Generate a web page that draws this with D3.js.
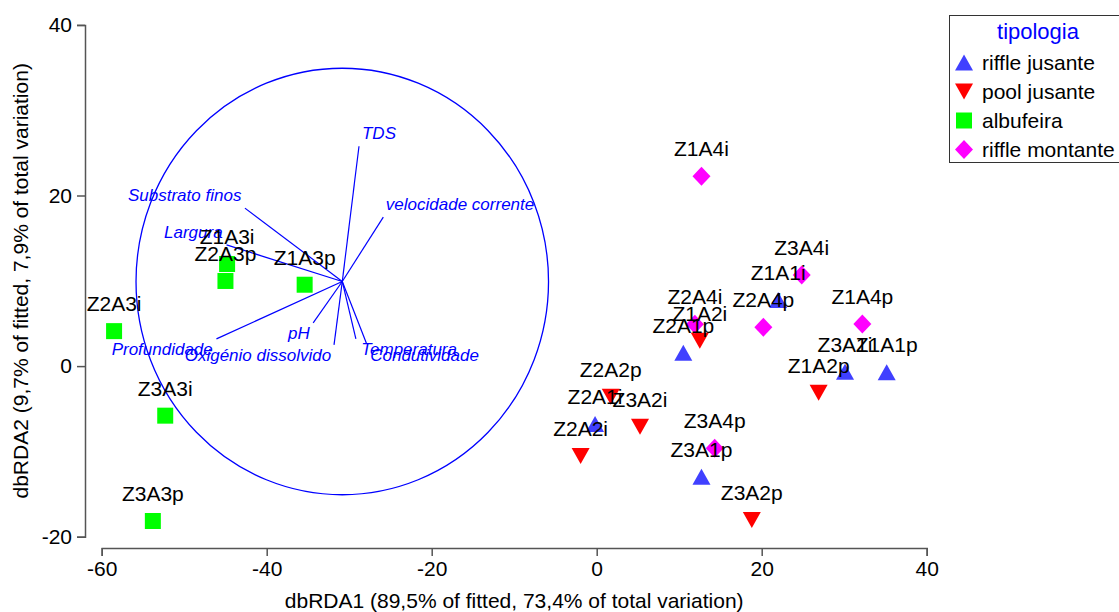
<!DOCTYPE html>
<html>
<head>
<meta charset="utf-8">
<script src="https://cdn.jsdelivr.net/npm/d3@7"></script>
<style>
  body { margin: 0; background: #fff; }
  svg { font-family: Arial, "Liberation Sans", sans-serif; }
</style>
</head>
<body>
<div id="chart"></div>
<script>
// site scores (dbRDA1, dbRDA2)
var sites = ["Z1A1i","Z1A1p","Z2A1i","Z2A1p","Z3A1i","Z3A1p",
             "Z1A2i","Z1A2p","Z2A2i","Z2A2p","Z3A2i","Z3A2p",
             "Z1A3i","Z1A3p","Z2A3i","Z2A3p","Z3A3i","Z3A3p",
             "Z1A4i","Z1A4p","Z2A4i","Z2A4p","Z3A4i","Z3A4p"];
var siteX = [22.0, 35.15, -0.2, 10.5, 30.1, 12.7,
             12.5, 26.9, -1.95, 1.7, 5.25, 18.8,
             -44.8, -35.4, -58.5, -45.0, -52.3, -53.8,
             12.7, 32.2, 11.9, 20.2, 24.85, 14.3];
var siteY = [7.75, -0.73, -6.79, 1.57, -0.66, -12.97,
             2.98, -3.12, -10.54, -3.59, -7.10, -18.04,
             11.97, 9.54, 4.1, 9.98, -5.81, -18.16,
             22.25, 4.94, 4.90, 4.55, 10.68, -9.64];
var siteType = [0,0,0,0,0,0, 1,1,1,1,1,1, 2,2,2,2,2,2, 3,3,3,3,3,3];

var types = ["riffle jusante", "pool jusante", "albufeira", "riffle montante"];
var typeColors = ["#4040ff", "#ff0000", "#00ff00", "#ff00ff"];
var typeShapes = ["up", "down", "square", "diamond"];

// environmental vectors (multiple partial correlations)
var vecNames = ["TDS", "velocidade corrente", "Substrato finos", "Largura", "Profundidade",
                "pH", "Oxigénio dissolvido", "Temperatura", "Condutividade"];
var vecX = [0.081, 0.199, -0.472, -0.561, -0.610, -0.141, -0.040, 0.066, 0.118];
var vecY = [0.634, 0.302, 0.344, 0.172, -0.269, -0.194, -0.297, -0.269, -0.292];
var vecLabelX = [0.178, 0.571, -0.764, -0.722, -0.873, -0.210, -0.409, 0.324, 0.399];
var vecLabelY = [0.695, 0.362, 0.404, 0.230, -0.315, -0.244, -0.347, -0.315, -0.343];

var circleCenter = [-30.84, 9.92];
var circleRadius = 25;

var xTicks = [-60, -40, -20, 0, 20, 40];
var yTicks = [-20, 0, 20, 40];

var width = 1119, height = 612;
var svg = d3.select("#chart").append("svg")
    .attr("width", width)
    .attr("height", height);

svg.append("rect").attr("width", width).attr("height", height).attr("fill", "#fff");

var x = d3.scaleLinear().domain([-60, 40]).range([101.7, 926.7]);
var y = d3.scaleLinear().domain([-20, 40]).range([536.7, 24.9]);

// axes, R style (plain hyphen for negatives)
var fmt = function(d) { return String(d); };
var xAxis = svg.append("g")
    .attr("transform", "translate(0,548)")
    .call(d3.axisBottom(x).tickValues(xTicks).tickFormat(fmt).tickSizeOuter(0).tickSize(8).tickPadding(5));
var yAxis = svg.append("g")
    .attr("transform", "translate(85,0)")
    .call(d3.axisLeft(y).tickValues(yTicks).tickFormat(fmt).tickSizeOuter(0).tickSize(8).tickPadding(5));

[xAxis, yAxis].forEach(function(a) {
    a.selectAll("path, line").attr("stroke", "#555").attr("stroke-width", 1.5);
    a.selectAll("text").attr("font-size", 21).attr("fill", "#000")
        .attr("font-family", "Arial, 'Liberation Sans', sans-serif");
});

svg.append("text")
    .attr("x", (x(-60) + x(40)) / 2)
    .attr("y", 608)
    .attr("text-anchor", "middle")
    .attr("font-size", 21)
    .text("dbRDA1 (89,5% of fitted, 73,4% of total variation)");

svg.append("text")
    .attr("transform", "translate(28," + ((y(-20) + y(40)) / 2) + ") rotate(-90)")
    .attr("text-anchor", "middle")
    .attr("font-size", 21)
    .text("dbRDA2 (9,7% of fitted, 7,9% of total variation)");

// correlation circle and vectors
var cx = x(circleCenter[0]), cy = y(circleCenter[1]);
var rx = x(circleCenter[0] + circleRadius) - cx;
var ry = cy - y(circleCenter[1] + circleRadius);

svg.append("ellipse")
    .attr("cx", cx).attr("cy", cy)
    .attr("rx", rx).attr("ry", ry)
    .attr("fill", "none")
    .attr("stroke", "#0000ff")
    .attr("stroke-width", 1.3);

var vecs = vecNames.map(function(n, i) {
    return { name: n, vx: vecX[i], vy: vecY[i], lx: vecLabelX[i], ly: vecLabelY[i] };
});

svg.append("g").selectAll("line")
    .data(vecs)
    .enter().append("line")
    .attr("x1", cx).attr("y1", cy)
    .attr("x2", function(d) { return x(circleCenter[0] + d.vx * circleRadius); })
    .attr("y2", function(d) { return y(circleCenter[1] + d.vy * circleRadius); })
    .attr("stroke", "#0000ff")
    .attr("stroke-width", 1.2);

svg.append("g").selectAll("text")
    .data(vecs)
    .enter().append("text")
    .attr("x", function(d) { return x(circleCenter[0] + d.lx * circleRadius); })
    .attr("y", function(d) { return y(circleCenter[1] + d.ly * circleRadius); })
    .attr("dy", "0.35em")
    .attr("text-anchor", "middle")
    .attr("font-size", 17)
    .attr("font-style", "italic")
    .attr("fill", "#0000ff")
    .text(function(d) { return d.name; });

// markers
function shapePath(shape) {
    if (shape == "up") return "M0,-8L9,8L-9,8Z";
    if (shape == "down") return "M0,8L9,-8L-9,-8Z";
    if (shape == "square") return "M-8,-8L8,-8L8,8L-8,8Z";
    return "M0,-9.5L9,0L0,9.5L-9,0Z";
}

var pts = sites.map(function(s, i) {
    return { name: s, x: siteX[i], y: siteY[i], t: siteType[i] };
});

svg.append("g").selectAll("path")
    .data(pts)
    .enter().append("path")
    .attr("transform", function(d) { return "translate(" + x(d.x) + "," + y(d.y) + ")"; })
    .attr("d", function(d) { return shapePath(typeShapes[d.t]); })
    .attr("fill", function(d) { return typeColors[d.t]; });

svg.append("g").selectAll("text")
    .data(pts)
    .enter().append("text")
    .attr("x", function(d) { return x(d.x); })
    .attr("y", function(d) { return y(d.y) - 20; })
    .attr("text-anchor", "middle")
    .attr("font-size", 21)
    .attr("fill", "#000")
    .text(function(d) { return d.name; });

// legend
var legend = svg.append("g");
legend.append("rect")
    .attr("x", 949.5).attr("y", 15.5)
    .attr("width", 180).attr("height", 147)
    .attr("fill", "#fff")
    .attr("stroke", "#333")
    .attr("stroke-width", 1);
legend.append("text")
    .attr("x", 1038).attr("y", 39)
    .attr("text-anchor", "middle")
    .attr("font-size", 22)
    .attr("fill", "#0000ff")
    .text("tipologia");

var items = legend.selectAll("g.item")
    .data(types)
    .enter().append("g")
    .attr("class", "item")
    .attr("transform", function(d, i) { return "translate(964," + (62.5 + i * 29) + ")"; });
items.append("path")
    .attr("d", function(d, i) { return shapePath(typeShapes[i]); })
    .attr("fill", function(d, i) { return typeColors[i]; });
items.append("text")
    .attr("x", 18).attr("y", 7)
    .attr("font-size", 21)
    .attr("fill", "#000")
    .text(function(d) { return d; });
</script>
</body>
</html>
